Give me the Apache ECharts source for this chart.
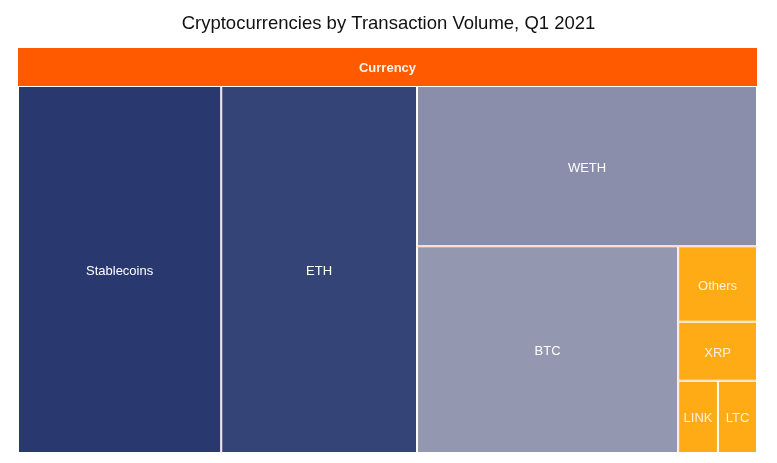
<!DOCTYPE html>
<html>
<head>
<meta charset="utf-8">
<script src="https://cdn.jsdelivr.net/npm/echarts@6/dist/echarts.min.js"></script>
<style>html,body{margin:0;padding:0;background:#fff}#c{width:777px;height:463px}</style>
</head>
<body>
<div id="c"></div>
<script>
var names = ['Stablecoins', 'ETH', 'WETH', 'BTC', 'Others', 'XRP', 'LINK', 'LTC'];
var values = [27.5, 26.5, 20.1, 19.9, 2.19, 1.72, 1.06, 1.04];
var colors = ['#293970', '#354477', '#8A8EAA', '#9397B0', '#FFAB16', '#FFAB16', '#FFAB16', '#FFAB16'];
var labelColors = ['#fff', '#fff', '#fff', '#fff', '#FFF0D8', '#FFF0D8', '#FFF0D8', '#FFF0D8'];

var children = names.map(function (n, i) {
  return { name: n, value: values[i], itemStyle: { color: colors[i] }, label: { color: labelColors[i] } };
});

var chart = echarts.init(document.getElementById('c'));
chart.setOption({
  title: {
    text: 'Cryptocurrencies by Transaction Volume, Q1 2021',
    left: 'center', top: 9,
    textStyle: { fontFamily: 'Liberation Sans', fontSize: 18.5, fontWeight: 'normal', color: '#111' }
  },
  series: [{
    type: 'treemap',
    left: 18, top: 48, width: 739, height: 405,
    roam: false, nodeClick: false,
    squareRatio: 0.8,
    breadcrumb: { show: false },
    label: { show: true, position: 'inside', color: '#fff', fontFamily: 'Liberation Sans', fontSize: 13,
      align: 'center', verticalAlign: 'middle', overflow: 'none', offset: [0, 2] },
    levels: [
      { itemStyle: { borderWidth: 0, gapWidth: 0 } },
      {
        itemStyle: { color: '#FF5A00', borderColor: '#FF5A00', borderWidth: 0, gapWidth: 0 },
        upperLabel: { show: true, height: 38, color: '#FFF2EA', fontWeight: 'bold', fontSize: 13,
          fontFamily: 'Liberation Sans', align: 'center', position: 'inside', offset: [0, 1] }
      },
      { itemStyle: { borderWidth: 1, borderColor: '#fff' } }
    ],
    data: [{ name: 'Currency', children: children }]
  }]
});
</script>
</body>
</html>
